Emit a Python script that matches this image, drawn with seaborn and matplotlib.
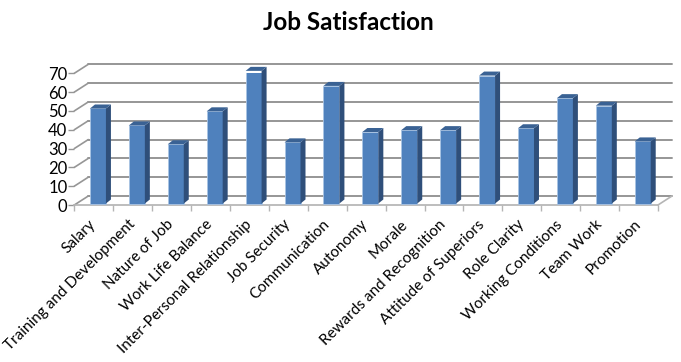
"""Job satisfaction bars, drawn in the old Excel 3-D column look."""

import matplotlib

matplotlib.use("Agg")
import matplotlib.pyplot as plt
import pandas as pd
import seaborn as sns
from matplotlib.patches import Polygon
from matplotlib.transforms import ScaledTranslation

categories = [
    "Salary", "Training and Development", "Nature of Job", "Work Life Balance",
    "Inter-Personal Relationship", "Job Security", "Communication", "Autonomy",
    "Morale", "Rewards and Recognition", "Attitude of Superiors", "Role Clarity",
    "Working Conditions", "Team Work", "Promotion",
]
scores = [50.5, 41.5, 31.5, 49, 70.5, 32.5, 62.5, 38, 39, 39, 68, 40, 56, 52, 33]
y_ticks = [0, 10, 20, 30, 40, 50, 60, 70]

FRONT = "#4f81bd"
SIDE = "#2f4f7a"
TOP = "#3a6294"
GRID = "#969696"
FLOOR = "#b5b5b5"
DPI = 100


def px_offset(fig, dx, dy):
    return ScaledTranslation(dx / DPI, dy / DPI, fig.dpi_scale_trans)


sns.set_theme(style="white")
plt.rcParams["font.family"] = ["Lato", "DejaVu Sans"]

fig = plt.figure(figsize=(6.81, 3.62), dpi=DPI)
ax = fig.add_axes([74.3 / 681, (362 - 205) / 362, 583.7 / 681, 131.7 / 362])
frame = pd.DataFrame({"category": categories, "score": scores})
sns.barplot(data=frame, x="category", y="score", color=FRONT, saturation=1, width=0.41, ax=ax, zorder=3)
ax.set_xlim(-0.5, len(categories) - 0.5)
ax.set_ylim(0, 70)

# back wall and left wall
back = ax.transData + px_offset(fig, 14, 9)
for value in y_ticks:
    ax.plot([-0.5, len(categories) - 0.5], [value, value], color=GRID, lw=1.4, transform=back,
            clip_on=False, zorder=1)
    x0, y0 = ax.transData.transform((-0.5, value))
    ax.plot([x0, x0 + 14], [y0, y0 + 9], color=GRID, lw=1.2, transform=None, clip_on=False, zorder=1)
x1, y1 = ax.transData.transform((len(categories) - 0.5, 0))
ax.plot([x1, x1 + 14], [y1, y1 + 9], color=FLOOR, lw=1.2, transform=None, clip_on=False, zorder=1)

# side and cap for each bar, taken from the bar that seaborn drew
bar_shift = px_offset(fig, 4.2, 1.5)
for bar in ax.patches:
    bar.set_transform(ax.transData + bar_shift)
    bar.set_edgecolor("#a9c4e4")
    bar.set_linewidth(0.6)
    (xa, ya), (xb, yb) = (ax.transData + bar_shift).transform(bar.get_bbox().get_points())
    side = [(xb, ya), (xb + 5, ya + 4), (xb + 5, yb + 4), (xb, yb)]
    cap = [(xa, yb), (xa + 5, yb + 4), (xb + 5, yb + 4), (xb, yb)]
    ax.add_patch(Polygon(side, closed=True, transform=None, facecolor=SIDE, edgecolor="none", zorder=3, clip_on=False))
    ax.add_patch(Polygon(cap, closed=True, transform=None, facecolor=TOP, edgecolor="none", zorder=3, clip_on=False))

ax.set_xlabel("")
ax.set_ylabel("")
ax.set_yticks(y_ticks)
ax.set_xticks([i - 0.5 for i in range(len(categories) + 1)], minor=True)
ax.set_xticks(range(len(categories)))
ax.set_xticklabels(categories, rotation=45, ha="right", rotation_mode="anchor", fontsize=11, color="black")
ax.tick_params(axis="x", which="major", length=0, pad=9)
ax.tick_params(axis="x", which="minor", length=4, width=1, color=FLOOR, bottom=True)
ax.tick_params(axis="y", length=4, width=1, color=GRID, left=True, labelsize=12, pad=1, labelcolor="black")
for label in ax.get_xticklabels():
    label.set_transform(label.get_transform() + px_offset(fig, -5, 0))
for name, spine in ax.spines.items():
    spine.set_visible(name == "bottom")
    spine.set_color(FLOOR)

fig.text(348 / 681, 1 - 23 / 362, "Job Satisfaction", ha="center", va="center", fontsize=17.5, fontweight="bold",
         color="black")
fig.savefig("out.png", dpi=DPI)
